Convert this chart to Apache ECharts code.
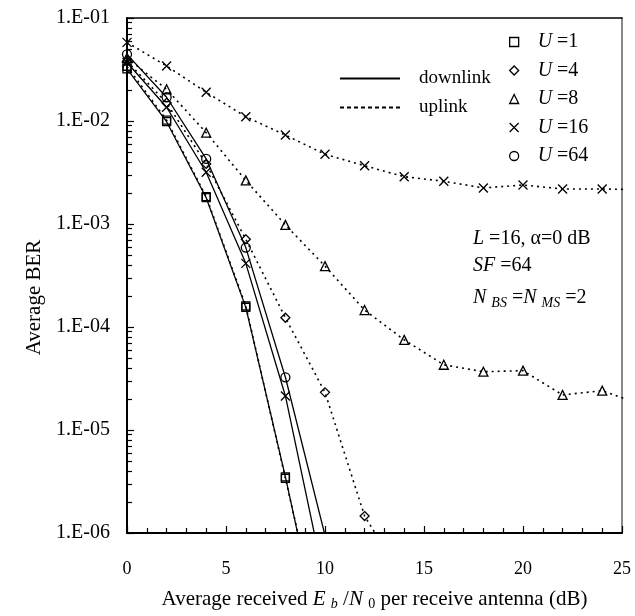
<!DOCTYPE html>
<html>
<head>
<meta charset="utf-8">
<script src="https://cdn.jsdelivr.net/npm/echarts@6/dist/echarts.min.js"></script>
<style>
  html, body { margin: 0; padding: 0; background: #fff; }
  #chart { width: 635px; height: 616px; }
</style>
</head>
<body>
<div id="chart"></div>
<script>
// BER vs Eb/N0, downlink (solid) and uplink (dotted) for several user counts.
// Points past the axis ends are there so the curves run out of the frame like the original.
const FONT = 'Liberation Serif';

const snrDown = [0, 2, 4, 6, 8, 10];
const downU1 = [3.2e-2, 9.85e-3, 1.8e-3, 1.55e-4, 3.5e-6, 6e-8];
const downU16 = [3.7e-2, 1.36e-2, 3.18e-3, 4.15e-4, 2.14e-5, 3.2e-7];
const downU64 = [4.44e-2, 1.7e-2, 4.28e-3, 5.9e-4, 3.25e-5, 9.5e-7];

const upU1 = [3.4e-2, 1.02e-2, 1.84e-3, 1.6e-4, 3.4e-6, 7e-8];
const snrUpU4 = [0, 2, 4, 6, 8, 10, 12, 14];
const upU4 = [3.8e-2, 1.5e-2, 3.83e-3, 7.1e-4, 1.23e-4, 2.32e-5, 1.46e-6, 3.5e-7];
const snrUpLong = [0, 2, 4, 6, 8, 10, 12, 14, 16, 18, 20, 22, 24, 26];
const upU8 = [4.1e-2, 2.03e-2, 7.7e-3, 2.65e-3, 9.8e-4, 3.9e-4, 1.46e-4, 7.5e-5,
  4.3e-5, 3.68e-5, 3.77e-5, 2.19e-5, 2.41e-5, 1.75e-5];
const upU16 = [5.8e-2, 3.42e-2, 1.9e-2, 1.1e-2, 7.3e-3, 4.75e-3, 3.68e-3, 2.88e-3,
  2.6e-3, 2.24e-3, 2.39e-3, 2.19e-3, 2.19e-3, 2.15e-3];

const userLabels = ['U=1', 'U=4', 'U=8', 'U=16', 'U=64'];
const linkLabels = ['downlink', 'uplink'];

const CROSS = 'path://M0,0L10,10M10,0L0,10';
const SYMBOLS = { 'U=1': 'rect', 'U=4': 'diamond', 'U=8': 'triangle', 'U=16': CROSS, 'U=64': 'circle' };
const SIZES = { 'U=1': 8, 'U=4': 9, 'U=8': 9, 'U=16': 9, 'U=64': 9 };

// log minor tick positions 2..9 within each decade
const minorTicks = [];
for (let d = -6; d <= -2; d++) {
  for (let k = 2; k <= 9; k++) minorTicks.push(parseFloat((k * Math.pow(10, d)).toPrecision(3)));
}

const hollow = { color: 'rgba(0,0,0,0)', borderColor: '#000', borderWidth: 1.3 };
const DOTTED = [2, 4];

function pairs(xs, ys) {
  return xs.map((x, i) => [x, ys[i]]);
}

function curve(xs, ys, user, dotted) {
  return {
    type: 'line',
    data: pairs(xs, ys),
    symbol: SYMBOLS[user],
    symbolSize: SIZES[user],
    itemStyle: hollow,
    lineStyle: { color: '#000', width: dotted ? 1.6 : 1.3, type: dotted ? DOTTED : 'solid' },
    clip: true,
    silent: true,
    z: dotted ? 2 : 3,
  };
}

const rich = {
  i: { fontStyle: 'italic', fontFamily: FONT, fontSize: 20, color: '#000' },
  s: { fontFamily: FONT, fontSize: 14, color: '#000', padding: [10, 0, 0, 0] },
  si: { fontFamily: FONT, fontSize: 14, fontStyle: 'italic', color: '#000', padding: [10, 0, 0, 0] },
};

const series = [
  curve(snrDown, downU1, 'U=1', false),
  curve(snrDown, downU16, 'U=16', false),
  curve(snrDown, downU64, 'U=64', false),
  curve(snrDown, upU1, 'U=1', true),
  curve(snrUpU4, upU4, 'U=4', true),
  curve(snrUpLong, upU8, 'U=8', true),
  curve(snrUpLong, upU16, 'U=16', true),
];

// legend-only series
linkLabels.forEach((name, i) => {
  series.push({
    name, type: 'line', data: [], symbol: 'none',
    itemStyle: { color: 'rgba(0,0,0,0)', borderWidth: 0 },
    lineStyle: { color: '#000', width: 1.3, type: i === 0 ? 'solid' : [4, 3] },
  });
});
userLabels.forEach((name) => {
  series.push({ name, type: 'line', data: [], symbol: SYMBOLS[name], itemStyle: hollow });
});

const chart = echarts.init(document.getElementById('chart'), null, { renderer: 'canvas' });
chart.setOption({
  animation: false,
  backgroundColor: '#fff',
  textStyle: { fontFamily: FONT, color: '#000' },
  grid: { left: 127, right: 13, top: 18, bottom: 83, containLabel: false },
  xAxis: [
    {
      type: 'value', min: 0, max: 25, interval: 5,
      axisLine: { lineStyle: { color: '#000', width: 2 } },
      axisTick: { inside: true, length: 7, lineStyle: { color: '#000', width: 1.2 } },
      minorTick: { show: true, splitNumber: 5, length: 5, lineStyle: { color: '#000', width: 1.2 } },
      splitLine: { show: false },
      axisLabel: { fontFamily: FONT, fontSize: 18, color: '#000', margin: 27 },
      name: 'Average received {i|E} {si|b} /{i|N} {s|0} per receive antenna (dB)',
      nameLocation: 'middle',
      nameGap: 54,
      nameTextStyle: { fontFamily: FONT, fontSize: 21, color: '#000', rich: {
        i: { fontStyle: 'italic', fontFamily: FONT, fontSize: 21, color: '#000' },
        s: { fontFamily: FONT, fontSize: 14, color: '#000', padding: [10, 0, 0, 0] },
        si: { fontFamily: FONT, fontSize: 14, fontStyle: 'italic', color: '#000', padding: [10, 0, 0, 0] },
      } },
    },
    {
      type: 'value', min: 0, max: 25, position: 'top',
      axisLine: { show: true, lineStyle: { color: '#000', width: 1.5 } },
      axisTick: { show: false }, axisLabel: { show: false }, splitLine: { show: false },
    },
  ],
  yAxis: [
    {
      type: 'log', logBase: 10, min: 1e-6, max: 1e-1,
      axisLine: { show: true, lineStyle: { color: '#000', width: 2 } },
      axisTick: { show: true, inside: true, length: 7, lineStyle: { color: '#000', width: 1.2 } },
      splitLine: { show: false },
      axisLabel: {
        fontFamily: FONT, fontSize: 20, color: '#000', margin: 17,
        formatter: (v) => '1.E-' + String(Math.round(-Math.log10(v))).padStart(2, '0'),
      },
      name: 'Average BER',
      nameLocation: 'middle',
      nameGap: 78,
      nameTextStyle: { fontFamily: FONT, fontSize: 21, color: '#000', padding: [0, 44, 0, 0] },
    },
    {
      type: 'log', logBase: 10, min: 1e-6, max: 1e-1, position: 'left',
      axisLine: { show: false },
      axisTick: { show: true, inside: true, length: 5, customValues: minorTicks,
        lineStyle: { color: '#000', width: 1.2 } },
      axisLabel: { show: false }, splitLine: { show: false },
    },
    {
      type: 'log', logBase: 10, min: 1e-6, max: 1e-1, position: 'right',
      axisLine: { show: true, lineStyle: { color: '#8a8a8a', width: 2 } },
      axisTick: { show: false }, axisLabel: { show: false }, splitLine: { show: false },
    },
  ],
  legend: [
    {
      data: linkLabels, orient: 'vertical', left: 339, top: 69, padding: 0,
      itemWidth: 60, itemHeight: 14, itemGap: 10, selectedMode: false,
      textStyle: { fontFamily: FONT, fontSize: 19, color: '#000', padding: [0, 0, 0, 14] },
    },
    {
      data: userLabels.map((name) => ({ name, icon: SYMBOLS[name] })),
      orient: 'vertical', left: 509, top: 32, padding: 0,
      itemWidth: 9, itemHeight: 9, itemGap: 8.5, selectedMode: false,
      itemStyle: hollow,
      formatter: (name) => '{i|U} ' + name.slice(1),
      textStyle: { fontFamily: FONT, fontSize: 20, color: '#000', lineHeight: 20,
        padding: [0, 0, 0, 14], rich },
    },
  ],
  graphic: [
    { type: 'text', x: 473, y: 239, style: { text: '{i|L} =16, α=0 dB', rich,
      fontFamily: FONT, fontSize: 20, fill: '#000', verticalAlign: 'middle' } },
    { type: 'text', x: 473, y: 266, style: { text: '{i|SF} =64', rich,
      fontFamily: FONT, fontSize: 20, fill: '#000', verticalAlign: 'middle' } },
    { type: 'text', x: 473, y: 298, style: { text: '{i|N} {si|BS} ={i|N} {si|MS} =2', rich,
      fontFamily: FONT, fontSize: 20, fill: '#000', verticalAlign: 'middle' } },
  ],
  series,
});
</script>
</body>
</html>
